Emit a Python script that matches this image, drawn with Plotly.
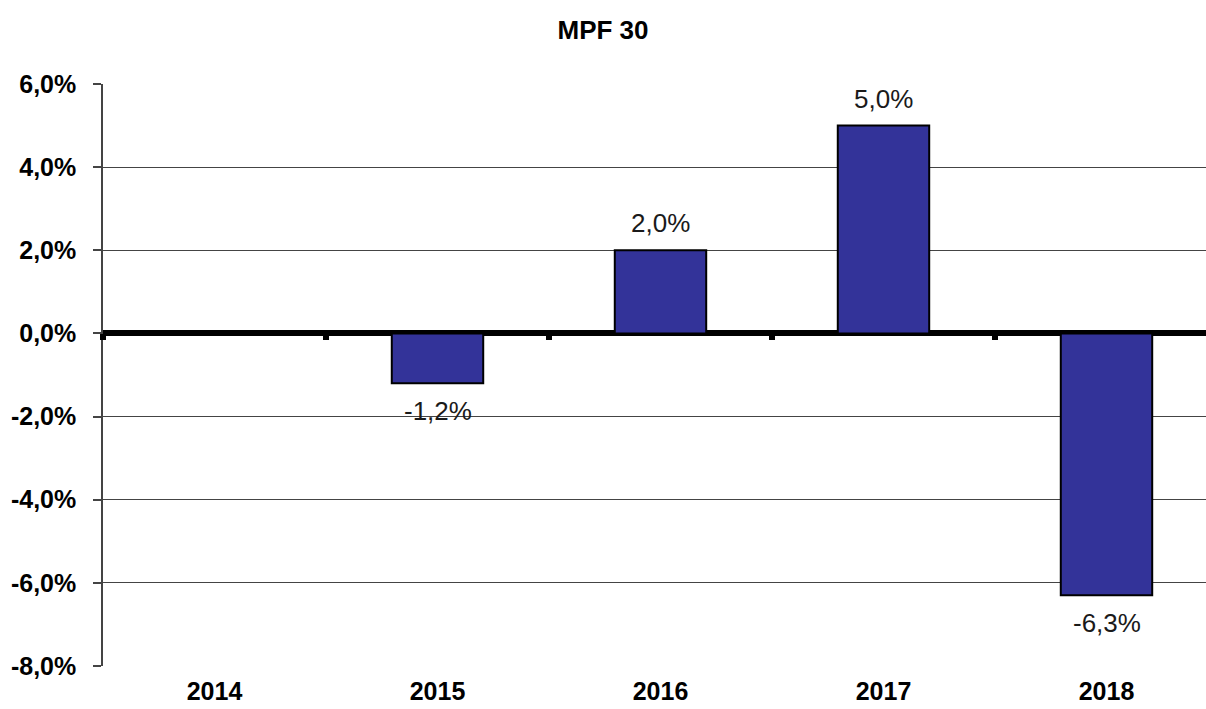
import plotly.graph_objects as go

years = ["2014", "2015", "2016", "2017", "2018"]
returns = [None, -1.2, 2.0, 5.0, -6.3]
y_ticks = [-8, -6, -4, -2, 0, 2, 4, 6]
title = "MPF 30"

def fmt(v):
    return f"{v:.1f}%".replace(".", ",")

FONT = "Liberation Sans, Arial, sans-serif"

fig = go.Figure()
fig.add_trace(go.Bar(
    x=years, y=returns,
    marker=dict(color="#333399", line=dict(color="#000000", width=2)),
    width=0.41,
    hoverinfo="skip",
))

# ticks on zero line via an overlay x-axis
fig.add_trace(go.Scatter(x=years, y=[None]*len(years), xaxis="x2", showlegend=False, hoverinfo="skip"))

annotations = []
for i, (yr, v) in enumerate(zip(years, returns)):
    if v is None:
        continue
    annotations.append(dict(
        x=i, y=v, xref="x", yref="y", text=fmt(v), showarrow=False,
        xanchor="center",
        yanchor="bottom" if v >= 0 else "top",
        yshift=10 if v >= 0 else -11,
        font=dict(family=FONT, size=26, color="#1a1a1a"),
    ))

ymin, ymax = -8, 6
W, H = 1216, 709
L, R, T, B = 103, 0, 84, 43
cat_w = 223
xr = [-0.5, -0.5 + (W - L - R) / cat_w]
fig.update_layout(
    width=W, height=H,
    margin=dict(l=L, r=R, t=T, b=B, autoexpand=False),
    paper_bgcolor="white", plot_bgcolor="white",
    showlegend=False,
    annotations=annotations,
    title=dict(text=f"<b>{title}</b>", x=603 / W, xanchor="center", y=1 - 30 / H, yanchor="middle",
               font=dict(family=FONT, size=26, color="#000000")),
    xaxis=dict(
        type="category", range=xr, showgrid=False, zeroline=False,
        showline=False, ticks="", automargin=False,
        tickfont=dict(family=FONT, size=25, color="#000000", weight="bold"),
        ticklabelstandoff=8,
    ),
    xaxis2=dict(
        type="category", range=xr, overlaying="x", anchor="free",
        position=(0 - ymin) / (ymax - ymin),
        showgrid=False, zeroline=False, showline=False,
        ticks="outside", tickson="boundaries", ticklen=6, tickwidth=6, tickcolor="#000000",
        showticklabels=False, automargin=False,
    ),
    yaxis=dict(
        range=[ymin, ymax], tickvals=y_ticks, ticktext=[fmt(v) for v in y_ticks],
        showgrid=True, gridcolor="#444444", gridwidth=1,
        zeroline=True, zerolinecolor="#000000", zerolinewidth=6,
        showline=True, linecolor="#444444", linewidth=1.5,
        ticks="outside", ticklen=8, tickcolor="#444444", tickwidth=1.5,
        tickfont=dict(family=FONT, size=25, color="#000000", weight="bold"),
        ticklabelstandoff=12, automargin=False,
    ),
)

fig.write_html("out.html", config={"displayModeBar": False},
               post_script="document.body.style.margin='0';document.body.style.overflow='hidden';")
